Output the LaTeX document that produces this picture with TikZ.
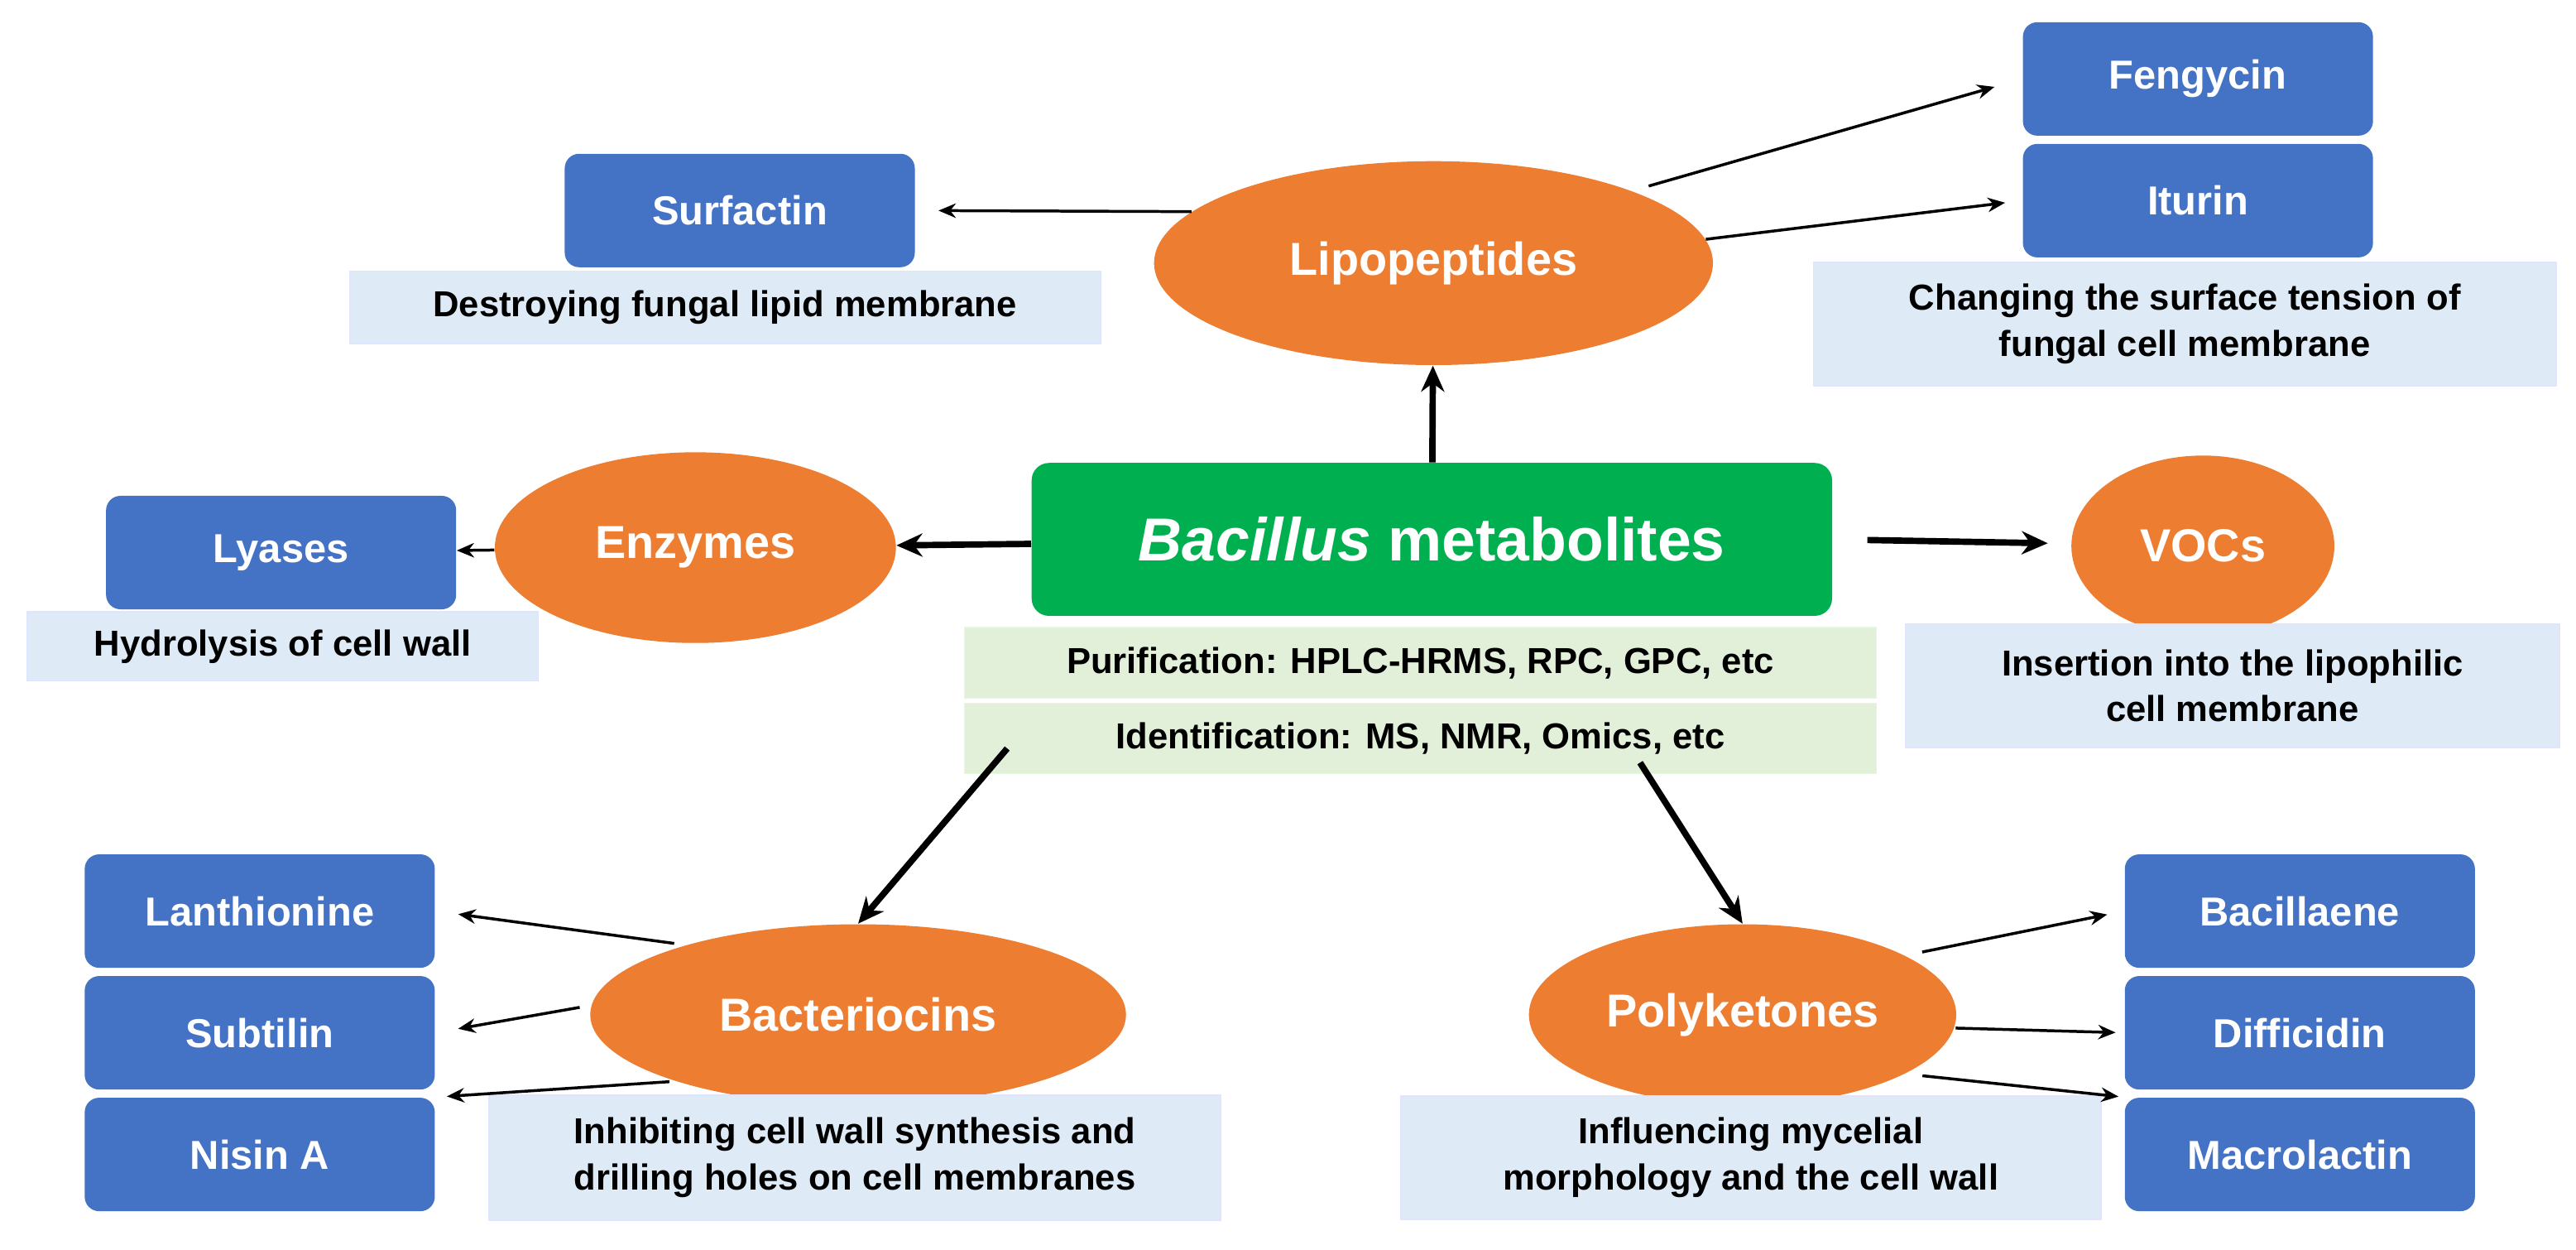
\documentclass[tikz,border=0pt]{standalone}
\usepackage{fontspec}
\setmainfont{Liberation Sans}
\usetikzlibrary{shapes.geometric, arrows.meta}
\definecolor{boxblue}{HTML}{4472C4}
\definecolor{ellorange}{HTML}{ED7D31}
\definecolor{maingreen}{HTML}{00B050}
\definecolor{descblue}{HTML}{DEEBF7}
\definecolor{descgreen}{HTML}{E2F0D9}
\begin{document}
\begin{tikzpicture}[x=0.02cm, y=-0.02cm,
    comp/.style={rectangle, rounded corners=5pt, fill=boxblue, text=white,
        font=\fontsize{14}{16}\selectfont\bfseries, minimum width=4.26cm, minimum height=1.38cm},
    cls/.style={ellipse, fill=ellorange, text=white, font=\fontsize{16}{18}\selectfont\bfseries,
        inner sep=0pt},
    desc/.style={rectangle, fill=descblue, draw=descblue!70!blue!30, text=black, align=center,
        font=\fontsize{12.5}{16}\selectfont\bfseries},
    meth/.style={rectangle, fill=descgreen, draw=descgreen!80!green!40, text=black,
        font=\fontsize{12.5}{15}\selectfont\bfseries, minimum width=11.1cm, minimum height=0.86cm},
    big/.style={-{Stealth[length=9pt,width=8pt]}, line width=2.2pt},
    small/.style={-{Stealth[length=6pt,width=5pt]}, line width=1pt}
  ]
  \useasboundingbox (0,0) rectangle (1567,760);

  % centre
  \node[rectangle, rounded corners=6pt, fill=maingreen, text=white,
    font=\fontsize{21}{24}\selectfont\bfseries, minimum width=9.74cm, minimum height=1.86cm]
    (main) at (871,328) {\textit{Bacillus} metabolites};
  \node[meth] (pur) at (864,403) {Purification: HPLC-HRMS, RPC, GPC, etc};
  \node[meth] (ide) at (864,449) {Identification: MS, NMR, Omics, etc};

  % classes
  \node[cls, minimum width=6.8cm, minimum height=2.48cm] (lip) at (872,160) {Lipopeptides};
  \node[cls, minimum width=4.88cm, minimum height=2.32cm] (enz) at (423,333) {Enzymes};
  \node[cls, minimum width=3.2cm, minimum height=2.2cm] (voc) at (1340,332) {VOCs};
  \node[cls, minimum width=6.52cm, minimum height=2.2cm] (bac) at (522,617) {Bacteriocins};
  \node[cls, minimum width=5.2cm, minimum height=2.2cm] (pol) at (1060,617) {Polyketones};

  % compounds
  \node[comp] (surf) at (450,128) {Surfactin};
  \node[comp] (feng) at (1337,48) {Fengycin};
  \node[comp] (itu) at (1337,122) {Iturin};
  \node[comp] (lya) at (171,336) {Lyases};
  \node[comp] (lan) at (158,554) {Lanthionine};
  \node[comp] (sub) at (158,628) {Subtilin};
  \node[comp] (nis) at (158,702) {Nisin A};
  \node[comp] (bcl) at (1399,554) {Bacillaene};
  \node[comp] (dif) at (1399,628) {Difficidin};
  \node[comp] (mac) at (1399,702) {Macrolactin};

  % descriptions
  \node[desc, minimum width=9.14cm, minimum height=0.88cm] (dsurf) at (441,187) {Destroying fungal lipid membrane};
  \node[desc, minimum width=9.04cm, minimum height=1.5cm] (ditu) at (1329,197) {Changing the surface tension of\\fungal cell membrane};
  \node[desc, minimum width=6.22cm, minimum height=0.84cm] (dlya) at (172,393) {Hydrolysis of cell wall};
  \node[desc, minimum width=7.96cm, minimum height=1.5cm] (dvoc) at (1358,417) {Insertion into the lipophilic\\cell membrane};
  \node[desc, minimum width=8.9cm, minimum height=1.52cm] (dbac) at (520,704) {Inhibiting cell wall synthesis and\\drilling holes on cell membranes};
  \node[desc, minimum width=8.52cm, minimum height=1.5cm] (dpol) at (1065,704) {Influencing mycelial\\morphology and the cell wall};

  % main arrows
  \draw[big] (main) -- (lip);
  \draw[big] (main) -- (enz);
  \draw[big, shorten <=12pt, shorten >=8pt] (main.east) -- (voc);
  \draw[big, shorten <=60pt] (main.south) ++(-190,0) coordinate (bl) -- (bac.north);
  \draw[big, shorten <=60pt] (main.south) ++(70,0) coordinate (br) -- (pol.north);

  % thin arrows
  \draw[small, shorten >=8pt] (lip.168) -- (surf.east);
  \draw[small, shorten <=6pt, shorten >=10pt] (lip.20) -- (feng.west);
  \draw[small, shorten >=6pt] (lip.5) -- (itu.west);
  \draw[small] (enz) -- (lya);
  \draw[small, shorten <=4pt, shorten >=8pt] (bac.158) -- (lan.east);
  \draw[small, shorten <=4pt, shorten >=8pt] (bac.178) -- (sub.east);
  \draw[small, shorten <=2pt, shorten >=4pt] (bac.200) -- (nis.north east);
  \draw[small, shorten <=6pt, shorten >=6pt] (pol.20) -- (bcl.west);
  \draw[small, shorten <=3pt, shorten >=3pt] (pol.east) ++(-6,8) coordinate (pe) -- (dif.west);
  \draw[small, shorten <=6pt, shorten >=2pt] (pol.340) -- (mac.north west);
\end{tikzpicture}
\end{document}
